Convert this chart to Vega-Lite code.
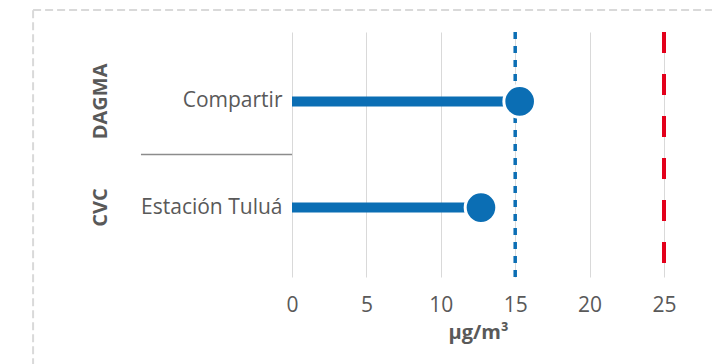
{
  "$schema": "https://vega.github.io/schema/vega-lite/v6.json",
  "width": 372,
  "height": 245,
  "autosize": {"type": "none"},
  "padding": {"left": 292, "top": 32, "right": 48, "bottom": 87},
  "background": "white",
  "config": {
    "font": "Open Sans",
    "view": {"stroke": null},
    "axis": {
      "labelFont": "Open Sans",
      "titleFont": "Open Sans",
      "labelColor": "#595959",
      "titleColor": "#595959",
      "labelFontSize": 21,
      "titleFontSize": 20
    }
  },
  "datasets": {
    "pm25": [
      {"grupo": "DAGMA", "estacion": "Compartir", "valor": 15.3},
      {"grupo": "CVC", "estacion": "Estación Tuluá", "valor": 12.7}
    ],
    "limites": [
      {"referencia": "Guía OMS", "valor": 15},
      {"referencia": "Norma nacional", "valor": 25}
    ]
  },
  "resolve": {"scale": {"y": "independent"}},
  "layer": [
    {
      "data": {"values": [{"marco": "borde"}]},
      "mark": {"type": "rect", "filled": false, "stroke": "#d9d9d9", "strokeWidth": 2, "strokeDash": [8, 4], "clip": false},
      "encoding": {
        "x": {"datum": -17.4, "type": "quantitative", "scale": {"domain": [0, 25], "nice": false}, "title": "µg/m³"},
        "x2": {"datum": 40},
        "y": {"datum": 1.09, "type": "quantitative", "scale": {"domain": [0, 1], "nice": false}, "axis": null},
        "y2": {"datum": -1}
      }
    },
    {
      "data": {"name": "pm25"},
      "transform": [{"filter": "datum.grupo !== 'DAGMA'"}],
      "mark": {"type": "rule", "color": "#8c8c8c", "strokeWidth": 1.5, "clip": false},
      "encoding": {
        "y": {
          "field": "grupo",
          "type": "nominal",
          "bandPosition": 0,
          "scale": {"type": "band", "domain": ["DAGMA", "CVC"], "paddingInner": 0, "paddingOuter": 0.154},
          "axis": {
            "orient": "left",
            "title": null,
            "ticks": false,
            "domain": false,
            "grid": false,
            "labelAngle": -90,
            "labelAlign": "center",
            "labelBaseline": "alphabetic",
            "labelFontWeight": "bold",
            "labelFontSize": 20,
            "labelPadding": 186
          }
        },
        "x": {"datum": -10.15, "type": "quantitative", "scale": {"domain": [0, 25], "nice": false}, "title": "µg/m³"},
        "x2": {"datum": 0}
      }
    },
    {
      "layer": [
        {
          "data": {"name": "limites"},
          "transform": [{"filter": "datum.referencia === 'Guía OMS'"}],
          "mark": {"type": "rule", "color": "#0b6eb4", "strokeWidth": 3.5, "strokeDash": [7, 7]},
          "encoding": {
            "x": {"field": "valor", "type": "quantitative", "scale": {"domain": [0, 25], "nice": false}, "title": "µg/m³"}
          }
        },
        {
          "data": {"name": "limites"},
          "transform": [{"filter": "datum.referencia === 'Norma nacional'"}],
          "mark": {"type": "rule", "color": "#e3001b", "strokeWidth": 4, "strokeDash": [21, 21]},
          "encoding": {
            "x": {"field": "valor", "type": "quantitative", "scale": {"domain": [0, 25], "nice": false}, "title": "µg/m³"}
          }
        },
        {
          "data": {"name": "pm25"},
          "mark": {"type": "bar", "size": 10, "color": "#0b6eb4"},
          "encoding": {
            "x": {
              "field": "valor",
              "type": "quantitative",
              "scale": {"domain": [0, 25], "nice": false},
              "title": "µg/m³",
              "axis": {
                "values": [0, 5, 10, 15, 20, 25],
                "grid": true,
                "gridColor": "#d9d9d9",
                "gridWidth": 1,
                "domain": false,
                "ticks": false,
                "labelFlush": false,
                "labelPadding": 17,
                "titlePadding": 7,
                "titleFontWeight": "bold"
              }
            },
            "y": {
              "field": "estacion",
              "type": "nominal",
              "scale": {"type": "band", "domain": ["Compartir", "Estación Tuluá"], "paddingInner": 0, "paddingOuter": 0.154},
              "axis": {"orient": "left", "title": null, "ticks": false, "domain": false, "grid": false, "labelPadding": 10}
            }
          }
        },
        {
          "data": {"name": "pm25"},
          "mark": {"type": "point", "shape": "circle", "filled": true, "fill": "#0b6eb4", "stroke": "white", "strokeWidth": 3, "size": 1000, "opacity": 1},
          "encoding": {
            "x": {"field": "valor", "type": "quantitative", "scale": {"domain": [0, 25], "nice": false}, "title": "µg/m³"},
            "y": {"field": "estacion", "type": "nominal", "scale": {"type": "band", "domain": ["Compartir", "Estación Tuluá"], "paddingInner": 0, "paddingOuter": 0.154}}
          }
        }
      ]
    }
  ]
}
